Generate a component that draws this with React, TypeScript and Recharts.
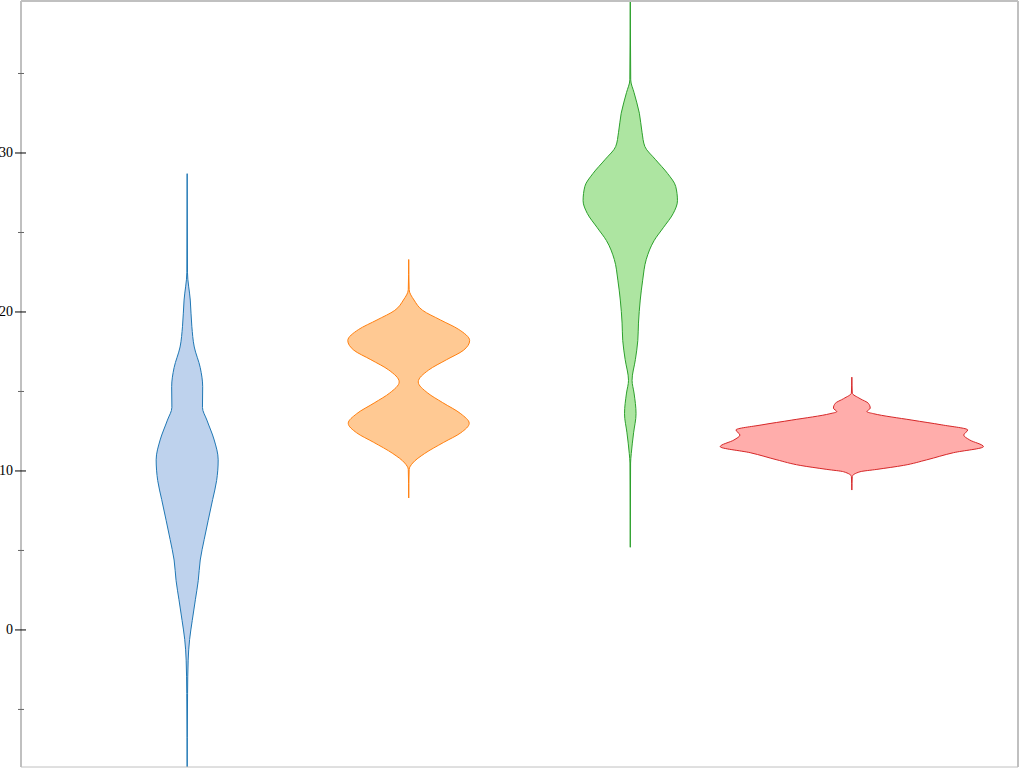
import { Area, ComposedChart, XAxis, YAxis } from "recharts";

// violin groups, left to right
const groupNames = ["A", "B", "C", "D"];
const groupCenters = [0, 1, 2, 3];
const strokeColors = ["#1f77b4", "#ff7f0e", "#2ca02c", "#d62728"];
const fillColors = ["#aec7e8", "#ffbb78", "#98df8a", "#ff9896"];

const blueLevels = [28.7, 22.5, 20.75, 19.1, 17.8, 16.5, 15.3, 14.0, 13.2, 11.95, 10.7, 9.4, 8.2, 6.9, 5.7, 4.4, 3.1, 1.9, 0.6, -0.6, -1.9, -4, -9.5];
const blueHalfWidths = [0, 0.0014, 0.014, 0.021, 0.032, 0.059, 0.07, 0.069, 0.089, 0.122, 0.14, 0.133, 0.115, 0.095, 0.077, 0.059, 0.05, 0.037, 0.023, 0.011, 0.0045, 0.0018, 0];

const orangeLevels = [23.3, 21.4, 20.75, 20.1, 19.5, 18.9, 18.2, 17.6, 17.0, 16.35, 15.6, 14.9, 14.3, 13.6, 13.0, 12.4, 11.8, 11.1, 10.5, 10.1, 8.3];
const orangeHalfWidths = [0, 0.002, 0.024, 0.063, 0.143, 0.226, 0.275, 0.248, 0.171, 0.09, 0.043, 0.086, 0.153, 0.235, 0.273, 0.235, 0.158, 0.072, 0.018, 0.002, 0];

const greenLevels = [41, 34.6, 33.8, 32.5, 31.3, 30.4, 29.6, 28.7, 27.9, 27.0, 26.2, 25.3, 24.5, 23.3, 22.0, 20.75, 19.3, 18.2, 17.0, 15.7, 14.9, 13.6, 12.4, 11.1, 10.5, 5.2];
const greenHalfWidths = [0, 0.002, 0.017, 0.041, 0.053, 0.066, 0.113, 0.169, 0.205, 0.213, 0.194, 0.149, 0.108, 0.072, 0.056, 0.045, 0.037, 0.034, 0.023, 0.008, 0.017, 0.026, 0.015, 0.0045, 0.0014, 0];

const redLevels = [15.9, 14.9, 14.55, 14.25, 13.95, 13.73, 13.6, 13.2, 12.9, 12.58, 12.26, 11.95, 11.53, 11.15, 10.7, 10.35, 10.1, 9.95, 9.65, 8.8];
const redHalfWidths = [0, 0.002, 0.037, 0.075, 0.083, 0.068, 0.099, 0.271, 0.406, 0.523, 0.505, 0.532, 0.594, 0.459, 0.338, 0.233, 0.113, 0.037, 0.002, 0];

const majorTicks = [0, 10, 20, 30];
const allTicks = [-5, 0, 5, 10, 15, 20, 25, 30, 35];

const levelSets = [blueLevels, orangeLevels, greenLevels, redLevels];
const halfWidthSets = [blueHalfWidths, orangeHalfWidths, greenHalfWidths, redHalfWidths];

const Y_DOMAIN: [number, number] = [-8.62, 39.56];
const X_DOMAIN: [number, number] = [-0.75, 3.75];
const FRAME = "#c0c0c0";

function buildViolin(i: number) {
  const c = groupCenters[i];
  return levelSets[i].map((y, k) => ({
    y,
    range: [c - halfWidthSets[i][k], c + halfWidthSets[i][k]],
  }));
}

function LeftTick(props: any) {
  const { x, y, payload } = props;
  const major = majorTicks.includes(payload.value);
  if (!major) {
    return <line x1={x - 3} x2={x + 3} y1={y} y2={y} stroke="#666" strokeWidth={1} />;
  }
  return (
    <g>
      <line x1={x - 6} x2={x + 5} y1={y} y2={y} stroke="#000" strokeWidth={1} />
      <text
        x={x - 8}
        y={y}
        textAnchor="end"
        dominantBaseline="central"
        fontFamily="serif"
        fontSize={14}
        fill="#000"
      >
        {payload.value}
      </text>
    </g>
  );
}

function RightTick(props: any) {
  const { x, y, payload } = props;
  const major = majorTicks.includes(payload.value);
  return major ? (
    <line x1={x - 6} x2={x + 6} y1={y} y2={y} stroke="#000" strokeWidth={1.5} />
  ) : (
    <line x1={x - 3} x2={x + 3} y1={y} y2={y} stroke="#666" strokeWidth={1} />
  );
}

export default function App() {
  return (
    <div style={{ position: "absolute", left: 0, top: 0 }}>
      <ComposedChart
        width={1024}
        height={768}
        layout="vertical"
        margin={{ top: 0, right: 0, bottom: 0, left: 0 }}
      >
        <XAxis
          xAxisId="bottom"
          type="number"
          orientation="bottom"
          domain={X_DOMAIN}
          allowDataOverflow
          height={1}
          tick={false}
          tickLine={false}
          axisLine={{ stroke: FRAME, strokeWidth: 1 }}
        />
        <XAxis
          xAxisId="top"
          type="number"
          orientation="top"
          domain={X_DOMAIN}
          allowDataOverflow
          height={1}
          tick={false}
          tickLine={false}
          axisLine={{ stroke: FRAME, strokeWidth: 2 }}
        />
        <YAxis
          yAxisId="left"
          type="number"
          dataKey="y"
          orientation="left"
          domain={Y_DOMAIN}
          reversed
          allowDataOverflow
          ticks={allTicks}
          width={21}
          tickSize={0}
          tickMargin={0}
          tickLine={false}
          axisLine={{ stroke: FRAME, strokeWidth: 2 }}
          tick={<LeftTick />}
          interval={0}
        />
        <YAxis
          yAxisId="right"
          type="number"
          orientation="right"
          domain={Y_DOMAIN}
          reversed
          allowDataOverflow
          ticks={allTicks}
          width={6}
          tickSize={0}
          tickMargin={0}
          tickLine={false}
          axisLine={{ stroke: FRAME, strokeWidth: 2 }}
          tick={<RightTick />}
          interval={0}
        />
        {groupNames.map((name, i) => (
          <Area
            key={name}
            name={name}
            data={buildViolin(i)}
            xAxisId="bottom"
            yAxisId="left"
            type="monotone"
            dataKey="range"
            stroke={strokeColors[i]}
            strokeWidth={1}
            fill={fillColors[i]}
            fillOpacity={0.8}
            dot={false}
            activeDot={false}
            isAnimationActive={false}
          />
        ))}
      </ComposedChart>
    </div>
  );
}
